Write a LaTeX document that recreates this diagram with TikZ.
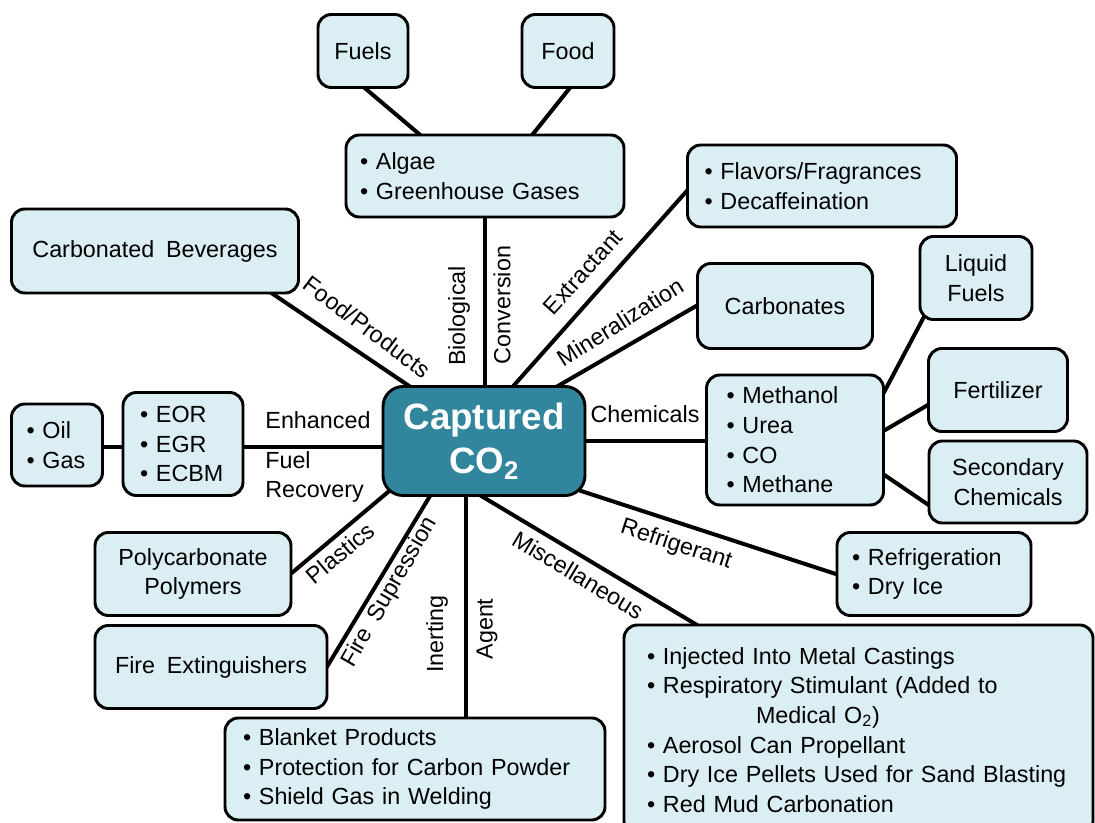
\documentclass[tikz,border=0pt]{standalone}
\usepackage{fontspec}
\setmainfont{Liberation Sans}[WordSpace=1.8]
\usetikzlibrary{calc}
\definecolor{boxfill}{HTML}{DBEEF4}
\definecolor{corefill}{HTML}{31859C}
\pgfdeclarelayer{bgzero}
\pgfdeclarelayer{background}
\pgfsetlayers{bgzero,background,main}
\newcommand\bl[1]{\mbox{\textbullet\ #1}}
\begin{document}
\begin{tikzpicture}[x=0.75pt,y=-0.75pt,
  bx/.style={draw=black, line width=2.2pt, fill=boxfill, rounded corners=10pt, inner sep=0pt,
    font=\fontsize{17.5pt}{22.3pt}\selectfont, align=center},
  blist/.style={bx, align=left},
  conn/.style={line width=3pt, draw=black},
  lbl/.style={inner sep=0pt, font=\fontsize{17.5pt}{22pt}\selectfont},
  core/.style={draw=black, line width=2.2pt, fill=corefill, rounded corners=15pt, text=white,
    font=\fontsize{27.5pt}{33pt}\selectfont\bfseries, align=center, inner sep=0pt}
]
\useasboundingbox (0,0) rectangle (1095,823);
\begin{pgfonlayer}{bgzero}
\fill[white] (0,0) rectangle (1095,823);
\end{pgfonlayer}

% central node
\node[core, minimum width=151.5pt, minimum height=81.75pt] (co2) at (484,441) {Captured\\CO\textsubscript{2}};

% boxes
\node[bx, minimum width=67.5pt, minimum height=54.75pt] (fuels) at (363,51) {Fuels};
\node[bx, minimum width=69pt, minimum height=54.75pt] (food) at (568,51) {Food};
\node[blist, text width=187.5pt, minimum width=208.5pt, minimum height=61.5pt] (algae) at (485,176)
  {\bl{Algae}\\\bl{Greenhouse Gases}};
\node[blist, text width=176.25pt, minimum width=201.75pt, minimum height=61.5pt] (flav) at (822,186)
  {\bl{Flavors/Fragrances}\\\bl{Decaffeination}};
\node[bx, minimum width=215.25pt, minimum height=63pt] (carbbev) at (155,251) {Carbonated Beverages};
\node[bx, minimum width=131.25pt, minimum height=63.75pt] (carbonates) at (785,306) {Carbonates};
\node[bx, minimum width=84pt, minimum height=62.25pt] (liqfuel) at (976,278) {Liquid\\Fuels};
\node[bx, minimum width=104.25pt, minimum height=62.25pt] (fert) at (998,390) {Fertilizer};
\node[bx, minimum width=118.5pt, minimum height=61.5pt] (secchem) at (1008,482) {Secondary\\Chemicals};
\node[blist, text width=102.75pt, minimum width=132.75pt, minimum height=97.5pt] (meth) at (795,440)
  {\bl{Methanol}\\\bl{Urea}\\\bl{CO}\\\bl{Methane}};
\node[blist, text width=45.75pt, minimum width=68.25pt, minimum height=61.5pt] (oilgas) at (57,445)
  {\bl{Oil}\\\bl{Gas}};
\node[blist, text width=64.5pt, minimum width=90pt, minimum height=77.25pt] (eor) at (183,444)
  {\bl{EOR}\\\bl{EGR}\\\bl{ECBM}};
\node[blist, text width=123pt, minimum width=145.5pt, minimum height=62.25pt] (refr) at (934,574)
  {\bl{Refrigeration}\\\bl{Dry Ice}};
\node[bx, minimum width=147pt, minimum height=62.25pt] (polyc) at (193,574) {Polycarbonate\\Polymers};
\node[bx, minimum width=174pt, minimum height=62.25pt] (fireext) at (211,667) {Fire Extinguishers};
\node[blist, text width=258pt, minimum width=285pt, minimum height=76.5pt] (blanket) at (415,769)
  {\bl{Blanket Products}\\\bl{Protection for Carbon Powder}\\\bl{Shield Gas in Welding}};
\node[blist, text width=317.25pt, minimum width=351.75pt, minimum height=157.5pt] (misc) at (858.5,730)
  {\bl{Injected Into Metal Castings}\\\bl{Respiratory Stimulant (Added to}\\
   \mbox{\hspace*{81.75pt}Medical O\textsubscript{2})}\\\bl{Aerosol Can Propellant}\\
   \bl{Dry Ice Pellets Used for Sand Blasting}\\\bl{Red Mud Carbonation}};

% connectors
\begin{pgfonlayer}{background}
\draw[conn] ($(fuels)+(-3,33)$) -- ($(algae)+(-60,-37)$);
\draw[conn] ($(food)+(5,33)$) -- ($(algae)+(44,-37)$);
\draw[conn] (algae) -- (algae |- co2);
\draw[conn] ($(co2)+(24,-49)$) -- ($(flav)+(-129,-2)$);
\draw[conn] ($(co2)+(67,-51)$) -- ($(carbonates)+(-82,-4)$);
\draw[conn] ($(carbbev)+(112,39)$) -- ($(co2)+(-69,-51)$);
\draw[conn] (co2) -- (co2 -| meth);
\draw[conn] ($(meth)+(87,-44)$) -- ($(liqfuel)+(-50,35)$);
\draw[conn] ($(meth)+(85,-7)$) -- ($(fert)+(-65,12)$);
\draw[conn] ($(meth)+(85,32)$) -- ($(secchem)+(-75,26)$);
\draw[conn] ($(co2)+(91,48)$) -- ($(refr)+(-92,2)$);
\draw[conn] ($(co2)+(-6,53)$) -- ($(misc)+(-156.5,-102)$);
\draw[conn] ($(co2)+(-18,0)$) coordinate (ia) -- (ia |- blanket);
\draw[conn] ($(eor)+(0,3)$) -- ($(co2)+(0,6)$);
\draw[conn] ($(oilgas)+(0,2)$) -- ($(eor)+(0,3)$);
\draw[conn] ($(polyc)+(94,3)$) -- ($(co2)+(-90,46)$);
\draw[conn] ($(fireext)+(114,3)$) -- ($(co2)+(-51,50)$);
\end{pgfonlayer}

% connector labels
\node[lbl, rotate=90] (lbio) at (459,316) {Biological};
\node[lbl, rotate=90] (lconv) at (502,305) {Conversion};
\node[lbl, rotate=48] (lextr) at (583,272) {Extractant};
\node[lbl, rotate=32] (lmin) at (620,322) {Mineralization};
\node[lbl, rotate=-37] (lfood) at (367,327) {Food/Products};
\node[lbl] (lchem) at (645,414) {Chemicals};
\node[lbl] (lenh) at (318,420) {Enhanced};
\node[lbl, align=left, anchor=west] (lfuel) at (265,477) {Fuel\\Recovery};
\node[lbl, rotate=-18] (lrefr) at (676,545) {Refrigerant};
\node[lbl, rotate=-31] (lmisc) at (578,575) {Miscellaneous};
\node[lbl, rotate=90] (liner) at (437,634) {Inerting};
\node[lbl, rotate=90] (lagent) at (487,629) {Agent};
\node[lbl, rotate=40] (lplast) at (340,553) {Plastics};
\node[lbl, rotate=60] (lfire) at (390,592) {Fire Supression};
\end{tikzpicture}
\end{document}
